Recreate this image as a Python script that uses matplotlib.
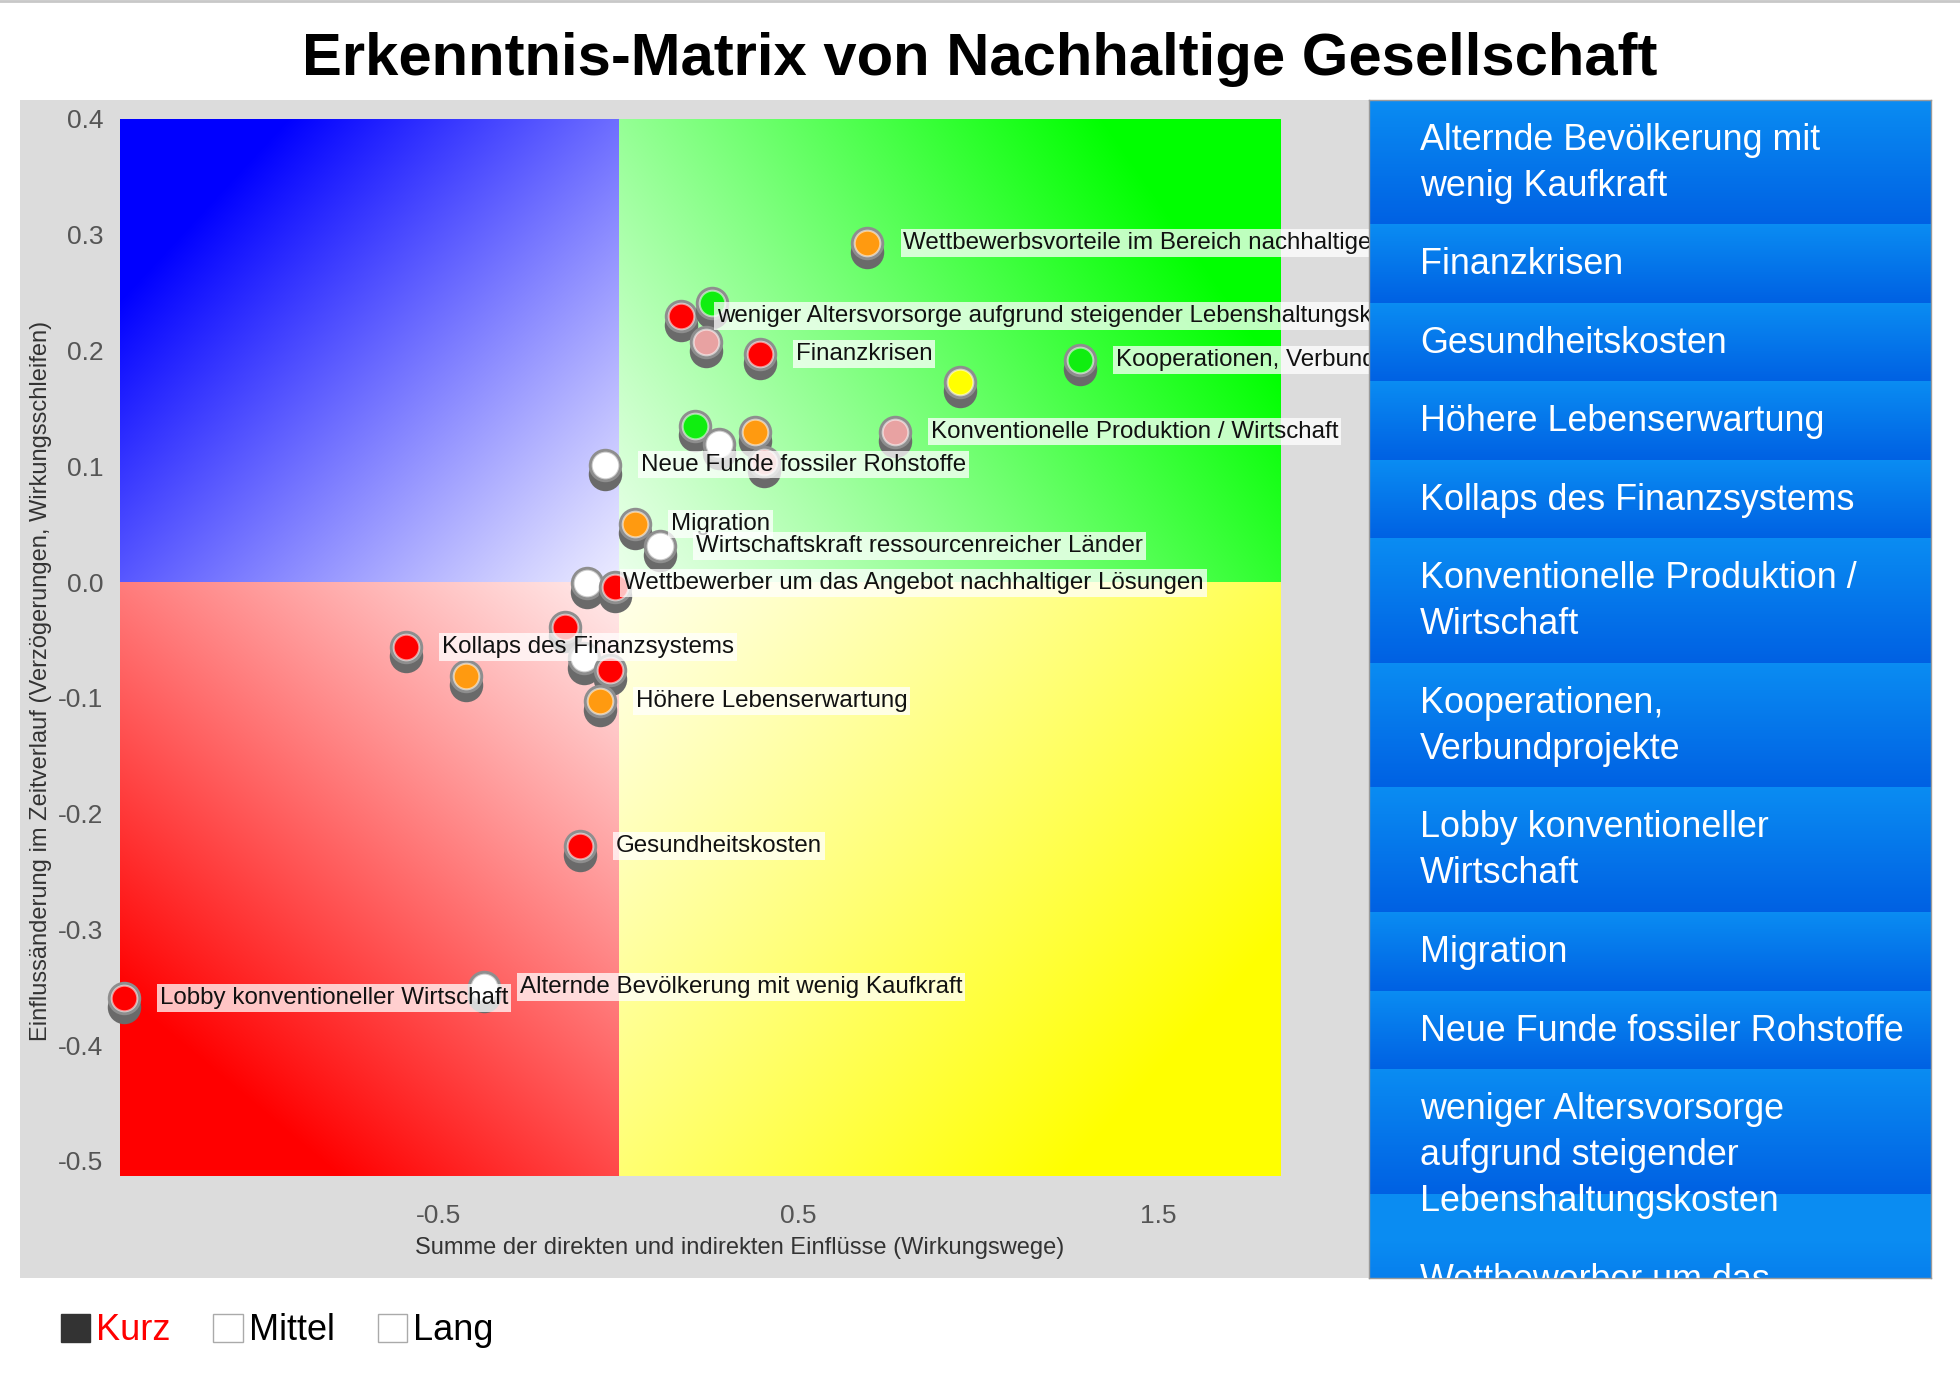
import numpy as np
import matplotlib
matplotlib.use('Agg')
import matplotlib.pyplot as plt
from matplotlib.patches import Rectangle, Patch
from matplotlib.lines import Line2D
from matplotlib.transforms import offset_copy

plt.rcParams['font.family'] = ['Liberation Sans', 'DejaVu Sans']

# values
point_x = [0.691, 0.174, 0.260, 0.243, 0.392, 1.281, 0.948, 0.212, 0.278, 0.378,
           0.767, 0.403, -0.038, 0.045, 0.115, -0.087, -0.010, -0.149, -0.590, -0.424,
           -0.097, -0.024, -0.052, -0.108, -1.375, -0.375]
point_y = [0.293, 0.230, 0.241, 0.207, 0.197, 0.192, 0.173, 0.135, 0.119, 0.130,
           0.130, 0.104, 0.1015, 0.050, 0.031, -0.001, -0.004, -0.039, -0.056, -0.081,
           -0.066, -0.076, -0.103, -0.228, -0.359, -0.350]
point_color = ['orange', 'red', 'green', 'pink', 'red', 'green', 'yellow', 'green', 'white', 'orange',
               'pink', 'pink', 'white', 'orange', 'white', 'white', 'red', 'red', 'red', 'orange',
               'white', 'red', 'orange', 'red', 'red', 'white']
point_label = ['Wettbewerbsvorteile im Bereich nachhaltiger Lösungen',
               'weniger Altersvorsorge aufgrund steigender Lebenshaltungskosten',
               '', '', 'Finanzkrisen', 'Kooperationen, Verbundprojekte', '', '', '', '',
               'Konventionelle Produktion / Wirtschaft', '', 'Neue Funde fossiler Rohstoffe',
               'Migration', 'Wirtschaftskraft ressourcenreicher Länder',
               'Wettbewerber um das Angebot nachhaltiger Lösungen', '', '',
               'Kollaps des Finanzsystems', '', '', '', 'Höhere Lebenserwartung',
               'Gesundheitskosten', 'Lobby konventioneller Wirtschaft',
               'Alternde Bevölkerung mit wenig Kaufkraft']

x_ticks = [-0.5, 0.5, 1.5]
y_ticks = [0.4, 0.3, 0.2, 0.1, 0.0, -0.1, -0.2, -0.3, -0.4, -0.5]

sidebar_items = ['Alternde Bevölkerung mit\nwenig Kaufkraft',
                 'Finanzkrisen',
                 'Gesundheitskosten',
                 'Höhere Lebenserwartung',
                 'Kollaps des Finanzsystems',
                 'Konventionelle Produktion /\nWirtschaft',
                 'Kooperationen,\nVerbundprojekte',
                 'Lobby konventioneller\nWirtschaft',
                 'Migration',
                 'Neue Funde fossiler Rohstoffe',
                 'weniger Altersvorsorge\naufgrund steigender\nLebenshaltungskosten',
                 'Wettbewerber um das\nAngebot nachhaltiger\nLösungen']

legend_labels = ['Kurz', 'Mittel', 'Lang']

colors = {'red': '#ff0000', 'orange': '#ff9a10', 'green': '#10ee10',
          'yellow': '#ffff00', 'white': '#ffffff', 'pink': '#e8a2a2'}

xmin, xmax = -1.385, 1.837
ymin, ymax = -0.513, 0.4

fig = plt.figure(figsize=(19.6, 13.74), dpi=100)

# grey panel behind the chart
fig.add_artist(Rectangle((0.0102, 0.0699), 0.6883, 0.8573, transform=fig.transFigure,
                         fc='#dcdcdc', ec='none', zorder=-1))
fig.add_artist(Line2D([0, 1], [0.999, 0.999], transform=fig.transFigure, color='#c8c8c8', lw=2))

fig.text(0.5, 0.957, 'Erkenntnis-Matrix von Nachhaltige Gesellschaft', ha='center', va='center',
         fontsize=43, fontweight='bold')

ax = fig.add_axes([0.0612, 0.1441, 0.5918, 0.7693])
ax.set_facecolor('none')

ax_w = 0.5918 * 1960
ax_h = 0.7693 * 1374
sx = ax_w / (xmax - xmin)
sy = ax_h / (ymax - ymin)


def quad_gradient(x_far, y_far, rgb):
    n = 300
    pw = abs(x_far) * sx
    ph = abs(y_far) * sy
    u = np.linspace(0, 1, n)[None, :] * pw
    v = np.linspace(0, 1, n)[:, None] * ph
    t = (u * pw + v * ph) / (pw ** 2 + ph ** 2)
    f = 0.08 + 0.92 * np.clip(t / 0.82, 0, 1) ** 1.1
    img = 1 - f[..., None] * (1 - np.array(rgb))
    ax.imshow(img, extent=(0, x_far, 0, y_far), origin='lower', aspect='auto',
              interpolation='bilinear', zorder=0)


quad_gradient(xmin, ymax, (0, 0, 1))
quad_gradient(xmax, ymax, (0, 1, 0))
quad_gradient(xmin, ymin, (1, 0, 0))
quad_gradient(xmax, ymin, (1, 1, 0))

ax.set_xlim(xmin, xmax)
ax.set_ylim(ymin, ymax)

shadow_tr = offset_copy(ax.transData, fig=fig, x=0, y=-6.5, units='points')
for i, (px, py, pc) in enumerate(zip(point_x, point_y, point_color)):
    z = 3 + i * 0.01
    ax.scatter([px], [py], s=580, c='#6a6a6a', linewidths=0, transform=shadow_tr, zorder=z,
               clip_on=False)
    ax.scatter([px], [py], s=580, c='#8e8e8e', linewidths=0, zorder=z + 0.002, clip_on=False)
    ax.scatter([px], [py], s=340, c=colors[pc], edgecolors=(1, 1, 1, 0.55), linewidths=1.5,
               zorder=z + 0.004, clip_on=False)

for px, py, lab in zip(point_x, point_y, point_label):
    if lab:
        ax.annotate(lab, (px, py), xytext=(26, 0), textcoords='offset points', va='center',
                    ha='left', fontsize=17.4, color='#111111', zorder=10, annotation_clip=False,
                    bbox=dict(boxstyle='square,pad=0.12', fc='white', ec='none', alpha=0.75))

ax.set_xticks(x_ticks)
ax.set_xticklabels([f'{v:.1f}' for v in x_ticks])
ax.set_yticks(y_ticks)
ax.set_yticklabels([f'{v:.1f}' for v in y_ticks])
ax.tick_params(axis='both', length=0, labelsize=19, labelcolor='#555555')
ax.tick_params(axis='x', pad=20)
ax.tick_params(axis='y', pad=12)
for sp in ax.spines.values():
    sp.set_visible(False)

fig.text(0.0209, 0.5044, 'Einflussänderung im Zeitverlauf (Verzögerungen, Wirkungsschleifen)',
         rotation=90, ha='center', va='center', fontsize=17, color='#333333')
fig.text(0.3776, 0.092, 'Summe der direkten und indirekten Einflüsse (Wirkungswege)',
         ha='center', va='center', fontsize=17, color='#333333')

# sidebar list of factors
ax_side = fig.add_axes([0.6985, 0.0699, 0.2867, 0.8573], zorder=5)
total_units = 25.6
light = np.array([0.04, 0.55, 0.95])
dark = np.array([0.0, 0.38, 0.89])
grad = np.linspace(0, 1, 100)[:, None, None] * (dark - light) + light
grad = np.repeat(grad, 2, axis=1)
top = 0.0
for item in sidebar_items:
    lines = item.split('\n')
    h = 0.707 + len(lines)
    gh = min(h, 2.707)
    ax_side.imshow(grad, extent=(0, 1, top + gh, top), aspect='auto', interpolation='bilinear')
    if h > gh:
        ax_side.add_patch(Rectangle((0, top + gh), 1, h - gh, fc=light, ec='none'))
    for k, line in enumerate(lines):
        ax_side.text(0.091, top + 0.87 + k, line, color='white', fontsize=25.8, va='center',
                     ha='left', clip_on=True)
    top += h
ax_side.set_xlim(0, 1)
ax_side.set_ylim(total_units, 0)
ax_side.set_xticks([])
ax_side.set_yticks([])
for sp in ax_side.spines.values():
    sp.set_color('#9a9a9a')
    sp.set_linewidth(1)

handles = [Patch(facecolor='#333333', edgecolor='#333333'),
           Patch(facecolor='white', edgecolor='#aaaaaa'),
           Patch(facecolor='white', edgecolor='#aaaaaa')]
leg = fig.legend(handles, legend_labels, loc='center left', bbox_to_anchor=(0.031, 0.0313),
                 ncol=3, frameon=False, fontsize=26, handlelength=0.82, handleheight=0.82,
                 handletextpad=0.15, columnspacing=1.2, borderpad=0, borderaxespad=0)
leg.get_texts()[0].set_color('red')

fig.savefig('out.png', dpi=100)
